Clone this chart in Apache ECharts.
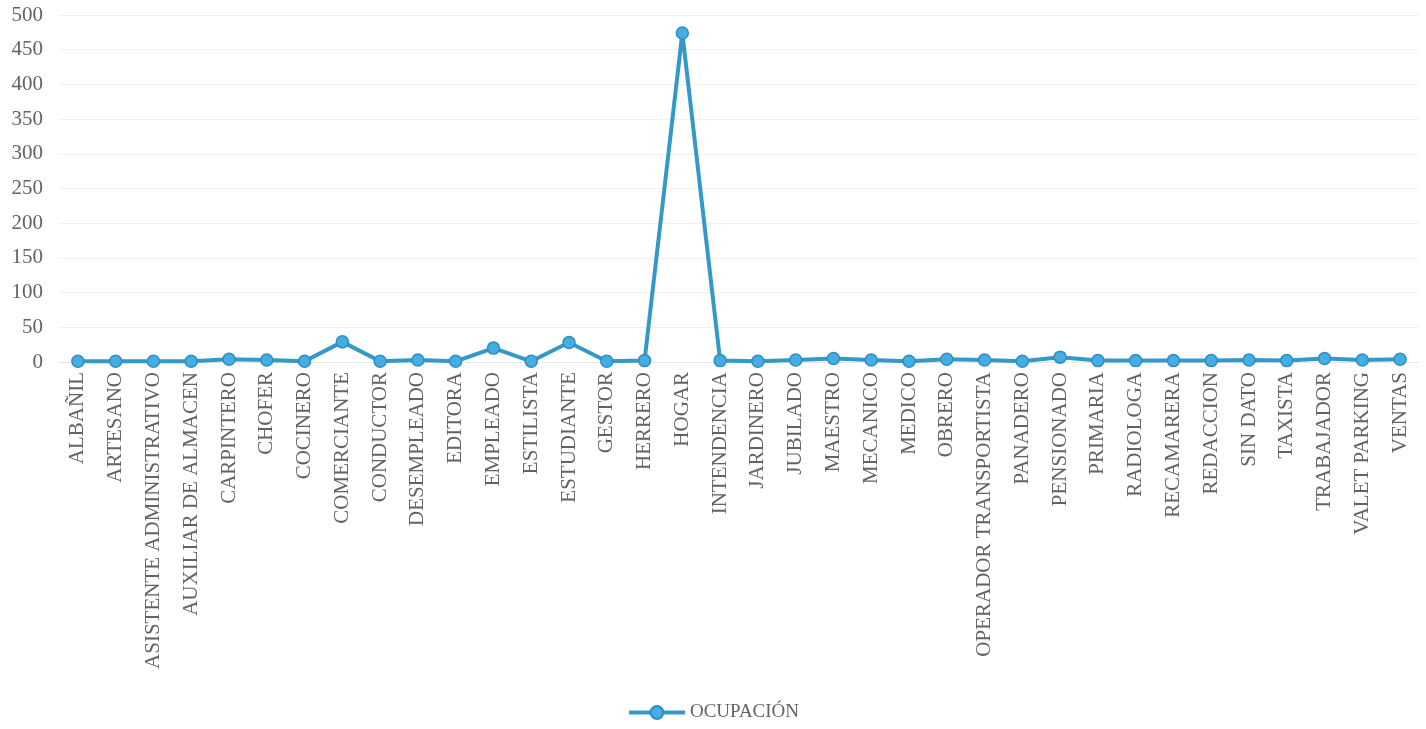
<!DOCTYPE html>
<html>
<head>
<meta charset="utf-8">
<script src="https://cdn.jsdelivr.net/npm/echarts@6/dist/echarts.min.js"></script>
<style>
  html, body { margin: 0; padding: 0; background: #ffffff; }
  #chart { width: 1426px; height: 729px; }
</style>
</head>
<body>
<div id="chart"></div>
<script>
// Occupation categories along the x axis
const categories = [
  'ALBAÑIL', 'ARTESANO', 'ASISTENTE ADMINISTRATIVO', 'AUXILIAR DE ALMACEN',
  'CARPINTERO', 'CHOFER', 'COCINERO', 'COMERCIANTE', 'CONDUCTOR',
  'DESEMPLEADO', 'EDITORA', 'EMPLEADO', 'ESTILISTA', 'ESTUDIANTE',
  'GESTOR', 'HERRERO', 'HOGAR', 'INTENDENCIA', 'JARDINERO', 'JUBILADO',
  'MAESTRO', 'MECANICO', 'MEDICO', 'OBRERO', 'OPERADOR TRANSPORTISTA',
  'PANADERO', 'PENSIONADO', 'PRIMARIA', 'RADIOLOGA', 'RECAMARERA',
  'REDACCION', 'SIN DATO', 'TAXISTA', 'TRABAJADOR', 'VALET PARKING', 'VENTAS'
];

// Count per occupation
const ocupacion = [
  1, 1, 1, 1, 4, 3, 1, 29, 1,
  3, 1, 20, 1, 28,
  1, 2, 474, 2, 1, 3,
  5, 3, 1, 4, 3,
  1, 7, 2, 2, 2,
  2, 3, 2, 5, 3, 4
];

const seriesName = 'OCUPACIÓN';

const chart = echarts.init(document.getElementById('chart'));
const textColor = '#636363';
const fontFamily = '"Liberation Serif", "DejaVu Serif", serif';

chart.setOption({
  animation: false,
  backgroundColor: '#ffffff',
  grid: { left: 59, right: 7, top: 15, bottom: 367 },
  legend: {
    bottom: 2,
    left: 'center',
    itemWidth: 56,
    itemHeight: 16,
    itemGap: 4,
    lineStyle: { width: 4 },
    textStyle: { color: textColor, fontFamily: fontFamily, fontSize: 19 },
    data: [seriesName]
  },
  xAxis: {
    type: 'category',
    data: categories,
    boundaryGap: true,
    axisLine: { show: true, lineStyle: { color: '#e6e6e6', width: 1 } },
    axisTick: { show: false },
    axisLabel: {
      rotate: 90,
      interval: 0,
      margin: 10,
      color: textColor,
      fontFamily: fontFamily,
      fontSize: 21
    }
  },
  yAxis: {
    type: 'value',
    min: 0,
    max: 500,
    interval: 50,
    axisLine: { show: false },
    axisTick: { show: false },
    splitLine: { lineStyle: { color: '#f0f0f0', width: 1 } },
    axisLabel: {
      color: textColor,
      fontFamily: fontFamily,
      fontSize: 21,
      margin: 16
    }
  },
  series: [{
    name: seriesName,
    type: 'line',
    data: ocupacion,
    symbol: 'circle',
    symbolSize: 12,
    lineStyle: { color: '#3399c7', width: 4 },
    itemStyle: { color: '#44ade3', borderColor: '#2f8fc0', borderWidth: 1.5 }
  }]
});
</script>
</body>
</html>
